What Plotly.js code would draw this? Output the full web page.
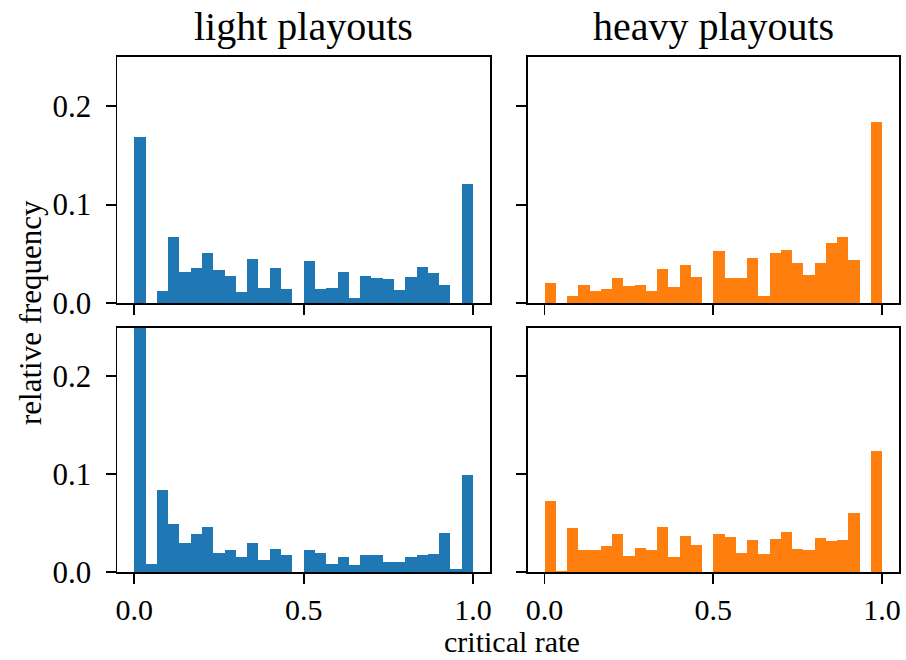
<!DOCTYPE html>
<html>
<head>
<meta charset="utf-8">
<script src="https://cdn.plot.ly/plotly-3.0.1.min.js"></script>
<style>html,body{margin:0;padding:0;background:#fff;}#chart{width:906px;height:660px;}</style>
</head>
<body>
<div id="chart"></div>
<script>
// Histogram: 30 equal bins on [0, 1]
const binCount = 30;
const binStart = 0;
const binEnd = 1;

// relative frequency per bin
const lightTop = [0.169, 0, 0.012, 0.067, 0.032, 0.036, 0.051, 0.034, 0.027, 0.011,
                  0.045, 0.015, 0.036, 0.014, 0, 0.043, 0.014, 0.015, 0.032, 0.005,
                  0.027, 0.025, 0.024, 0.013, 0.026, 0.037, 0.031, 0.018, 0, 0.121];
const heavyTop = [0.020, 0, 0.007, 0.018, 0.012, 0.014, 0.025, 0.017, 0.018, 0.012,
                  0.035, 0.016, 0.039, 0.026, 0, 0.053, 0.025, 0.025, 0.046, 0.007,
                  0.051, 0.054, 0.041, 0.028, 0.041, 0.061, 0.067, 0.044, 0, 0.184];
const lightBottom = [0.27, 0.008, 0.084, 0.049, 0.030, 0.039, 0.046, 0.019, 0.022, 0.015,
                     0.030, 0.012, 0.024, 0.017, 0, 0.022, 0.019, 0.008, 0.015, 0.007,
                     0.017, 0.017, 0.010, 0.010, 0.015, 0.017, 0.018, 0.040, 0.003, 0.099];
const heavyBottom = [0.073, 0.001, 0.045, 0.023, 0.022, 0.027, 0.039, 0.016, 0.025, 0.022,
                     0.046, 0.015, 0.037, 0.028, 0, 0.039, 0.036, 0.019, 0.033, 0.018,
                     0.034, 0.041, 0.024, 0.022, 0.035, 0.032, 0.033, 0.060, 0, 0.124];

const xTickVals = [0, 0.5, 1];
const xTickText = ["0.0", "0.5", "1.0"];
const yTickVals = [0, 0.1, 0.2];
const yTickText = ["0.0", "0.1", "0.2"];
const colTitles = ["light playouts", "heavy playouts"];
const xLabel = "critical rate";
const yLabel = "relative frequency";

const blue = "#1f77b4";
const orange = "#ff7f0e";
const FONT = "Liberation Serif, Times New Roman, serif";

const binWidth = (binEnd - binStart) / binCount;
const centers = Array.from({length: binCount}, (_, i) => binStart + (i + 0.5) * binWidth);

function tr(vals, color, xa, ya) {
  return {type: "bar", x: centers, y: vals, width: binWidth, xaxis: xa, yaxis: ya,
          marker: {color: color, line: {width: 0}}, hoverinfo: "x+y", showlegend: false,
          cliponaxis: true};
}

const data = [
  tr(lightTop, blue, "x", "y"),
  tr(heavyTop, orange, "x2", "y2"),
  tr(lightBottom, blue, "x3", "y3"),
  tr(heavyBottom, orange, "x4", "y4")
];

const W = 906, H = 660;
const colPx = [[117.3, 490], [527.7, 899]];
const rowPx = [[57, 303], [327.5, 572]];
const xd = c => [colPx[c][0] / W, colPx[c][1] / W];
const yd = r => [1 - rowPx[r][1] / H, 1 - rowPx[r][0] / H];

function xax(c, r, anchor) {
  return {domain: xd(c), range: [-0.05, 1.05], anchor: anchor, showgrid: false, zeroline: false,
          showline: true, mirror: true, linecolor: "#000", linewidth: 1.8,
          ticks: "outside", ticklen: 10, tickwidth: 1.8, tickcolor: "#000",
          tickvals: xTickVals, ticktext: xTickText, showticklabels: r === 1,
          ticklabelstandoff: 0,
          tickfont: {family: FONT, size: 30, color: "#000"}, fixedrange: true};
}
function yax(c, r, anchor) {
  return {domain: yd(r), range: [0, 0.25], anchor: anchor, showgrid: false, zeroline: false,
          showline: true, mirror: true, linecolor: "#000", linewidth: 1.8,
          ticks: "outside", ticklen: 10, tickwidth: 1.8, tickcolor: "#000",
          tickvals: yTickVals, ticktext: yTickText, showticklabels: c === 0,
          ticklabelstandoff: 8,
          tickfont: {family: FONT, size: 31, color: "#000"}, fixedrange: true};
}

const layout = {
  width: W, height: H,
  margin: {l: 0, r: 0, t: 0, b: 0, pad: 0},
  paper_bgcolor: "#fff", plot_bgcolor: "#fff",
  bargap: 0,
  font: {family: FONT, color: "#000"},
  xaxis: xax(0, 0, "y"), yaxis: yax(0, 0, "x"),
  xaxis2: xax(1, 0, "y2"), yaxis2: yax(1, 0, "x2"),
  xaxis3: xax(0, 1, "y3"), yaxis3: yax(0, 1, "x3"),
  xaxis4: xax(1, 1, "y4"), yaxis4: yax(1, 1, "x4"),
  annotations: [
    {text: colTitles[0], xref: "paper", yref: "paper", x: (xd(0)[0] + xd(0)[1]) / 2, y: 1 - 26 / H,
     xanchor: "center", yanchor: "middle", showarrow: false, font: {family: FONT, size: 40, color: "#000"}},
    {text: colTitles[1], xref: "paper", yref: "paper", x: (xd(1)[0] + xd(1)[1]) / 2, y: 1 - 26 / H,
     xanchor: "center", yanchor: "middle", showarrow: false, font: {family: FONT, size: 40, color: "#000"}},
    {text: xLabel, xref: "paper", yref: "paper", x: 512 / W, y: 1 - 641 / H,
     xanchor: "center", yanchor: "middle", showarrow: false, font: {family: FONT, size: 30, color: "#000"}},
    {text: yLabel, xref: "paper", yref: "paper", x: 30 / W, y: 1 - 313 / H, textangle: -90,
     xanchor: "center", yanchor: "middle", showarrow: false, font: {family: FONT, size: 31, color: "#000"}}
  ]
};

Plotly.newPlot("chart", data, layout, {displayModeBar: false, staticPlot: true});
</script>
</body>
</html>
